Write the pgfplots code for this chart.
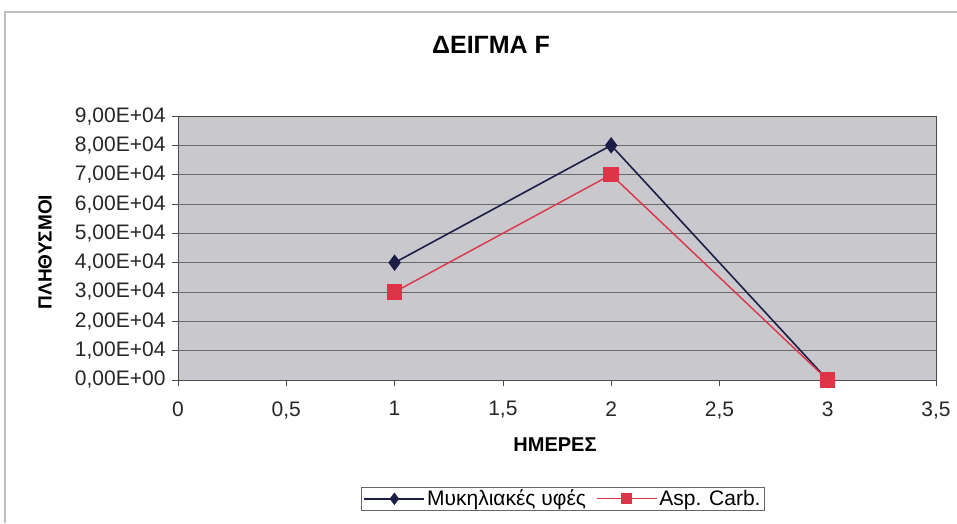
\documentclass[border=0pt]{standalone}
\usepackage{pgfplots}
\pgfplotsset{compat=1.18}
\usepackage{fontspec}
\setmainfont{Liberation Sans}
\definecolor{navyline}{RGB}{28,30,72}
\definecolor{redline}{RGB}{222,52,72}
\definecolor{plotbg}{RGB}{200,200,205}
\definecolor{gridc}{RGB}{105,105,108}
\begin{document}
\begin{tikzpicture}[x=1pt,y=1pt]
\path[use as bounding box] (-178,-143) rectangle (779,380);
\draw[black!25, line width=1.2pt] (-173,-143) -- (-173,368) -- (779,368);
\begin{axis}[
  at={(0,0)}, anchor=south west,
  scale only axis, width=758pt, height=264pt,
  xmin=0, xmax=3.5, ymin=0, ymax=90000,
  axis background/.style={fill=plotbg},
  axis line style={black!70, line width=0.8pt},
  xtick={0,0.5,...,3.5},
  xticklabels={0,{0,5},1,{1,5},2,{2,5},3,{3,5}},
  ytick={0,10000,...,90000},
  yticklabels={{0,00E+00},{1,00E+04},{2,00E+04},{3,00E+04},{4,00E+04},{5,00E+04},{6,00E+04},{7,00E+04},{8,00E+04},{9,00E+04}},
  scaled y ticks=false,
  /pgf/number format/assume math mode=true,
  tick style={black!70, line width=0.7pt},
  tick align=outside, major tick length=6pt,
  xtick pos=bottom, ytick pos=left,
  ymajorgrids, grid style={gridc, line width=0.8pt},
  ticklabel style={font=\fontsize{21}{24}\selectfont, text=black!85},
  xticklabel style={yshift=-12pt},
  yticklabel style={xshift=-3pt},
  legend style={at={(0.508,-0.405)}, anchor=north, legend columns=2,
    draw=black!60, fill=white, font=\fontsize{21}{24}\selectfont,
    inner xsep=2pt, inner ysep=1pt,
    /tikz/every even column/.append style={column sep=8pt}},
  legend image code/.code={\draw[mark repeat=2,mark phase=2, mark size=5pt]
    plot coordinates {(0pt,0pt) (30pt,0pt) (60pt,0pt)};},
  legend cell align=left,
]
\addplot[navyline, line width=1.6pt, mark=diamond*, mark size=7pt,
  mark options={fill=navyline, draw=navyline}]
  coordinates {(1,40000) (2,80000) (3,0)};
\addlegendentry{Μυκηλιακές υφές}
\addplot[redline, line width=1.4pt, mark=square*, mark size=7pt,
  mark options={fill=redline, draw=redline}]
  coordinates {(1,30000) (2,70000) (3,0)};
\addlegendentry{Asp. Carb.}
\end{axis}
\node[font=\bfseries\fontsize{25}{29}\selectfont] at (313,335) {ΔΕΙΓΜΑ F};
\node[font=\bfseries\fontsize{19}{22}\selectfont, rotate=90] at (-133,128) {ΠΛΗΘΥΣΜΟΙ};
\node[font=\bfseries\fontsize{20}{23}\selectfont] at (377,-65) {ΗΜΕΡΕΣ};
\end{tikzpicture}
\end{document}
